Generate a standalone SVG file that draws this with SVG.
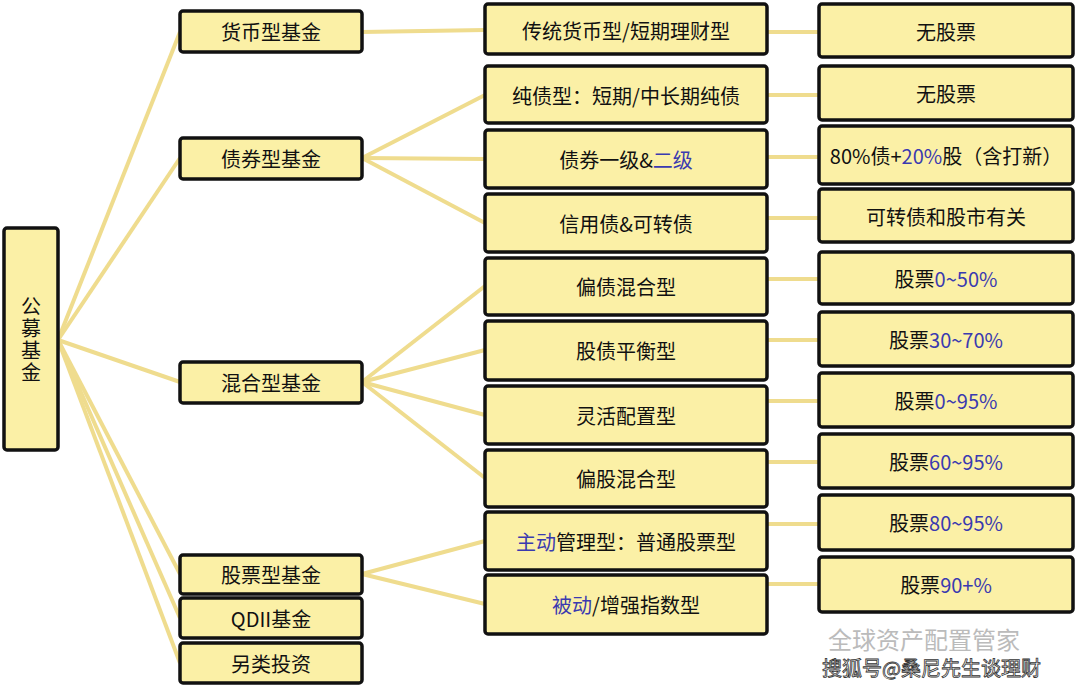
<svg xmlns="http://www.w3.org/2000/svg" width="1080" height="692" viewBox="0 0 1080 692">
<style>
.b{fill:#fbf0a6;stroke:#111;stroke-width:3.5}
.t{font-family:"Noto Sans CJK SC",sans-serif;font-size:20px;fill:#111;text-anchor:middle;dominant-baseline:central}
.u{fill:#3a3ab0}
.c line{stroke:#efdc8e;stroke-width:4}
</style>
<rect width="1080" height="692" fill="#fff"/>
<g class="c">
<line x1="58" y1="340" x2="180" y2="32"/><line x1="58" y1="340" x2="180" y2="158"/><line x1="58" y1="340" x2="180" y2="382"/><line x1="58" y1="340" x2="180" y2="574"/><line x1="58" y1="340" x2="180" y2="618"/><line x1="58" y1="340" x2="180" y2="663"/>
<line x1="362" y1="32" x2="485" y2="30"/>
<line x1="362" y1="158" x2="485" y2="95"/><line x1="362" y1="158" x2="485" y2="159"/><line x1="362" y1="158" x2="485" y2="223"/>
<line x1="362" y1="382" x2="485" y2="286"/><line x1="362" y1="382" x2="485" y2="350"/><line x1="362" y1="382" x2="485" y2="415"/><line x1="362" y1="382" x2="485" y2="478"/>
<line x1="362" y1="574" x2="485" y2="541"/><line x1="362" y1="574" x2="485" y2="604"/>
<line x1="767" y1="32" x2="819" y2="32"/><line x1="767" y1="95" x2="819" y2="95"/><line x1="767" y1="157" x2="819" y2="157"/><line x1="767" y1="218" x2="819" y2="218"/><line x1="767" y1="279" x2="819" y2="279"/><line x1="767" y1="340" x2="819" y2="340"/><line x1="767" y1="401" x2="819" y2="401"/><line x1="767" y1="462" x2="819" y2="462"/><line x1="767" y1="524" x2="819" y2="524"/><line x1="767" y1="584" x2="819" y2="584"/>
</g>
<g id="root"><rect class="b" x="4" y="228" width="54" height="222" rx="3"/><text class="t" x="31" y="340" style="writing-mode:vertical-rl;letter-spacing:2px">公募基金</text></g>
<g id="l1a"><rect class="b" x="180" y="11" width="182" height="41" rx="3"/><text class="t" x="271" y="31">货币型基金</text></g>
<g id="l1b"><rect class="b" x="180" y="138" width="182" height="41" rx="3"/><text class="t" x="271" y="158">债券型基金</text></g>
<g id="l1c"><rect class="b" x="180" y="362" width="182" height="41" rx="3"/><text class="t" x="271" y="382">混合型基金</text></g>
<g id="l1d"><rect class="b" x="180" y="555" width="182" height="39" rx="3"/><text class="t" x="271" y="574">股票型基金</text></g>
<g id="l1e"><rect class="b" x="180" y="598" width="182" height="40" rx="3"/><text class="t" x="271" y="618">QDII基金</text></g>
<g id="l1f"><rect class="b" x="180" y="643" width="182" height="40" rx="3"/><text class="t" x="271" y="663">另类投资</text></g>
<g id="l2a"><rect class="b" x="485" y="4" width="282" height="50" rx="3"/><text class="t" x="626" y="30">传统货币型/短期理财型</text></g>
<g id="l2b"><rect class="b" x="485" y="66" width="282" height="57" rx="3"/><text class="t" x="626" y="95">纯债型：短期/中长期纯债</text></g>
<g id="l2c"><rect class="b" x="485" y="130" width="282" height="58" rx="3"/><text class="t" x="626" y="159">债券一级&amp;<tspan class="u">二级</tspan></text></g>
<g id="l2d"><rect class="b" x="485" y="194" width="282" height="58" rx="3"/><text class="t" x="626" y="223">信用债&amp;可转债</text></g>
<g id="l2e"><rect class="b" x="485" y="258" width="282" height="57" rx="3"/><text class="t" x="626" y="286">偏债混合型</text></g>
<g id="l2f"><rect class="b" x="485" y="321" width="282" height="59" rx="3"/><text class="t" x="626" y="350">股债平衡型</text></g>
<g id="l2g"><rect class="b" x="485" y="386" width="282" height="58" rx="3"/><text class="t" x="626" y="415">灵活配置型</text></g>
<g id="l2h"><rect class="b" x="485" y="450" width="282" height="57" rx="3"/><text class="t" x="626" y="478">偏股混合型</text></g>
<g id="l2i"><rect class="b" x="485" y="512" width="282" height="58" rx="3"/><text class="t" x="626" y="541"><tspan class="u">主动</tspan>管理型：普通股票型</text></g>
<g id="l2j"><rect class="b" x="485" y="575" width="282" height="59" rx="3"/><text class="t" x="626" y="604"><tspan class="u">被动</tspan>/增强指数型</text></g>
<g id="l3a"><rect class="b" x="819" y="4" width="254" height="53" rx="3"/><text class="t" x="946" y="31">无股票</text></g>
<g id="l3b"><rect class="b" x="819" y="66" width="254" height="54" rx="3"/><text class="t" x="946" y="93">无股票</text></g>
<g id="l3c"><rect class="b" x="819" y="126" width="254" height="58" rx="3"/><text class="t" x="946" y="155">80%债+<tspan class="u">20%</tspan>股（含打新）</text></g>
<g id="l3d"><rect class="b" x="819" y="189" width="254" height="53" rx="3"/><text class="t" x="946" y="216">可转债和股市有关</text></g>
<g id="l3e"><rect class="b" x="819" y="252" width="254" height="52" rx="3"/><text class="t" x="946" y="278">股票<tspan class="u">0~50%</tspan></text></g>
<g id="l3f"><rect class="b" x="819" y="312" width="254" height="54" rx="3"/><text class="t" x="946" y="339">股票<tspan class="u">30~70%</tspan></text></g>
<g id="l3g"><rect class="b" x="819" y="373" width="254" height="54" rx="3"/><text class="t" x="946" y="400">股票<tspan class="u">0~95%</tspan></text></g>
<g id="l3h"><rect class="b" x="819" y="434" width="254" height="54" rx="3"/><text class="t" x="946" y="461">股票<tspan class="u">60~95%</tspan></text></g>
<g id="l3i"><rect class="b" x="819" y="495" width="254" height="55" rx="3"/><text class="t" x="946" y="522">股票<tspan class="u">80~95%</tspan></text></g>
<g id="l3j"><rect class="b" x="819" y="557" width="254" height="55" rx="3"/><text class="t" x="946" y="584">股票<tspan class="u">90+%</tspan></text></g>
<text x="828" y="649" font-family="Noto Sans CJK SC,sans-serif" font-size="24" fill="#bbb">全球资产配置管家</text>
<text x="822" y="676" font-family="Noto Sans CJK SC,sans-serif" font-size="20" fill="#fff" stroke="#333" stroke-width="0.8">搜狐号@桑尼先生谈理财</text>
</svg>
